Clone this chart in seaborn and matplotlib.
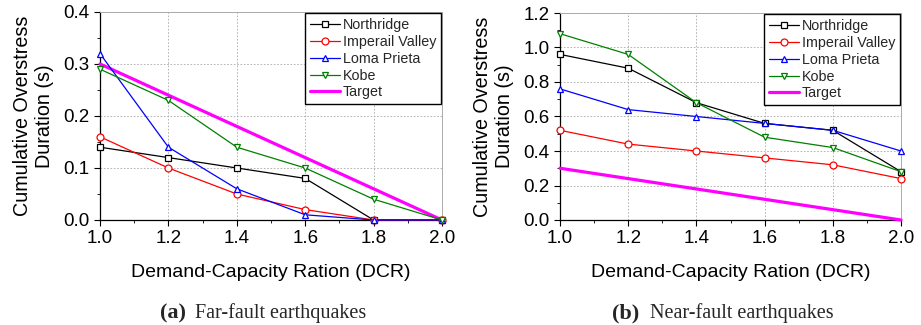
import matplotlib
matplotlib.use("Agg")
import matplotlib.pyplot as plt
import seaborn as sns
import pandas as pd
from matplotlib.ticker import MultipleLocator, FormatStrFormatter

sns.set_theme(style="white")
plt.rcParams['font.family'] = ['Liberation Sans', 'DejaVu Sans']

dcr = [1.0, 1.2, 1.4, 1.6, 1.8, 2.0]
series_names = ["Northridge", "Imperail Valley", "Loma Prieta", "Kobe", "Target"]

far_northridge = [0.14, 0.12, 0.10, 0.08, 0.0, 0.0]
far_imperial = [0.16, 0.10, 0.05, 0.02, 0.0, 0.0]
far_loma = [0.32, 0.14, 0.06, 0.01, 0.0, 0.0]
far_kobe = [0.29, 0.23, 0.14, 0.10, 0.04, 0.0]
far_target = [0.30, 0.24, 0.18, 0.12, 0.06, 0.0]

near_northridge = [0.96, 0.88, 0.68, 0.56, 0.52, 0.28]
near_imperial = [0.52, 0.44, 0.40, 0.36, 0.32, 0.24]
near_loma = [0.76, 0.64, 0.60, 0.56, 0.52, 0.40]
near_kobe = [1.08, 0.96, 0.68, 0.48, 0.42, 0.28]
near_target = [0.30, 0.24, 0.18, 0.12, 0.06, 0.0]

styles = {
    "Northridge": dict(color="black", marker="s"),
    "Imperail Valley": dict(color="red", marker="o"),
    "Loma Prieta": dict(color="blue", marker="^"),
    "Kobe": dict(color="green", marker="v"),
    "Target": dict(color="magenta", marker=None),
}

fig = plt.figure(figsize=(9.21, 3.25), dpi=100)
ax1 = fig.add_axes([100/921, 1-220/325, 342/921, 208/325])
ax2 = fig.add_axes([560/921, 1-220/325, 341/921, 207/325])

serif = ["Liberation Serif", "DejaVu Serif"]
panels = [
    (ax1, [far_northridge, far_imperial, far_loma, far_kobe, far_target], 0.4, 0.1, 0.05,
     "(a)", "Far-fault earthquakes", 160, 195),
    (ax2, [near_northridge, near_imperial, near_loma, near_kobe, near_target], 1.2, 0.2, 0.1,
     "(b)", "Near-fault earthquakes", 612, 650),
]

for ax, vals, ymax, ymaj, ymin, tag, cap, tx, cx in panels:
    for name, v in zip(series_names, vals):
        df = pd.DataFrame({"DCR": dcr, "val": v})
        st = styles[name]
        if name == "Target":
            sns.lineplot(data=df, x="DCR", y="val", ax=ax, color=st["color"], lw=2.3,
                         label=name, clip_on=False, zorder=3)
        else:
            sns.lineplot(data=df, x="DCR", y="val", ax=ax, color=st["color"], lw=0.9,
                         marker=st["marker"], markersize=5, markerfacecolor="white",
                         markeredgecolor=st["color"], markeredgewidth=0.9,
                         label=name, clip_on=False, zorder=4)
    ax.set_xlim(1.0, 2.0)
    ax.set_ylim(0, ymax)
    ax.xaxis.set_major_locator(MultipleLocator(0.2))
    ax.xaxis.set_minor_locator(MultipleLocator(0.1))
    ax.yaxis.set_major_locator(MultipleLocator(ymaj))
    ax.yaxis.set_minor_locator(MultipleLocator(ymin))
    ax.xaxis.set_major_formatter(FormatStrFormatter("%.1f"))
    ax.yaxis.set_major_formatter(FormatStrFormatter("%.1f"))
    ax.grid(True, which="major", color="#aaaaaa", ls=(0, (2, 2)), lw=0.6)
    for s in ["top", "right"]:
        ax.spines[s].set_color("#aaaaaa")
        ax.spines[s].set_linewidth(0.7)
    for s in ["left", "bottom"]:
        ax.spines[s].set_color("black")
        ax.spines[s].set_linewidth(0.9)
    ax.tick_params(axis="both", which="major", direction="out", length=4, width=0.8,
                   labelsize=13.5, color="black", labelcolor="black", bottom=True, left=True)
    ax.tick_params(axis="both", which="minor", direction="out", length=2, width=0.6,
                   color="black", bottom=True, left=True)
    ax.set_xlabel("Demand-Capacity Ration (DCR)", fontsize=14, labelpad=12, color="black")
    ax.set_ylabel("Cumulative Overstress\nDuration (s)", fontsize=14.2, labelpad=7,
                  color="black", linespacing=1.15)
    leg = ax.legend(loc="upper right", bbox_to_anchor=(0.998, 0.995), fontsize=10.3,
                    frameon=True, fancybox=False, framealpha=1, edgecolor="black",
                    handlelength=2.1, handletextpad=0.2, labelspacing=0.2,
                    borderpad=0.35, borderaxespad=0.0)
    leg.get_frame().set_linewidth(1.0)
    fig.text(tx/921, 1-313/325, tag, ha="left", va="center", fontsize=16,
             fontweight="bold", family=serif)
    fig.text(cx/921, 1-313/325, cap, ha="left", va="center", fontsize=14.5, family=serif)

fig.savefig("out.png", dpi=100)
